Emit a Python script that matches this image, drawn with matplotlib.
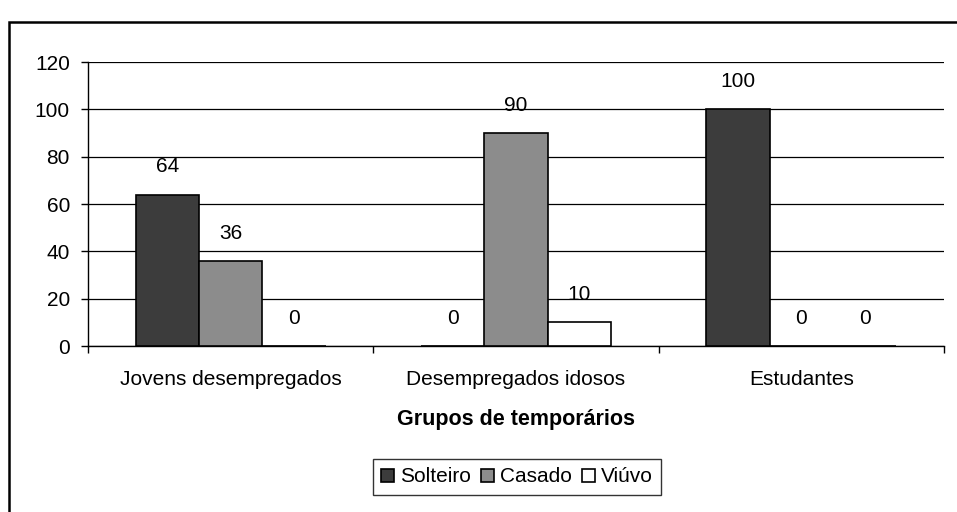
import matplotlib
matplotlib.use("Agg")
import matplotlib.pyplot as plt
import numpy as np
from matplotlib.patches import Rectangle

categories = ["Jovens desempregados", "Desempregados idosos", "Estudantes"]
series_names = ["Solteiro", "Casado", "Viúvo"]
solteiro = [64, 0, 100]
casado = [36, 90, 0]
viuvo = [0, 10, 0]
values = [solteiro, casado, viuvo]
colors = ["#3c3c3c", "#8c8c8c", "#ffffff"]
yticks = [0, 20, 40, 60, 80, 100, 120]

plt.rcParams['font.family'] = ['Liberation Sans', 'DejaVu Sans']
FS = 15

W, H = 957, 512
fig = plt.figure(figsize=(W/100, H/100), dpi=100)
ax = fig.add_axes([88/W, 1-346/H, (944-88)/W, (346-62)/H])

x = np.arange(len(categories))
bw = 0.222
for i, (name, vals, c) in enumerate(zip(series_names, values, colors)):
    pos = x + (i-1)*bw
    ax.bar(pos, vals, width=bw, color=c, edgecolor='black', linewidth=1.2,
           label=name, zorder=3)
    for px, v in zip(pos, vals):
        ax.annotate(str(v), (px, v), xytext=(0, 20), textcoords='offset points',
                    ha='center', va='center', fontsize=FS, zorder=4)

ax.set_xlim(-0.5, 2.5)
ax.set_ylim(0, 120)
ax.set_yticks(yticks)
ax.grid(axis='y', color='black', linewidth=0.9, zorder=0)
for s in ['top', 'right']:
    ax.spines[s].set_visible(False)
ax.spines['left'].set_linewidth(1.0)
ax.spines['bottom'].set_linewidth(1.0)
ax.tick_params(axis='y', length=5, width=1, pad=8, labelsize=FS)
ax.set_xticks(x)
ax.set_xticklabels(categories, fontsize=FS)
ax.tick_params(axis='x', which='major', length=0, pad=17)
ax.set_xticks([-0.5, 0.5, 1.5, 2.5], minor=True)
ax.tick_params(axis='x', which='minor', length=5, width=1, direction='out')
ax.set_xlabel("Grupos de temporários", fontsize=15.5, fontweight='bold', labelpad=15)

leg = fig.legend(loc='center', bbox_to_anchor=(517/W, 1-477/H), ncol=3,
                 fontsize=FS, frameon=True, fancybox=False, edgecolor='black',
                 handlelength=0.6, handleheight=0.6, handletextpad=0.3,
                 columnspacing=0.5, borderpad=0.4)
leg.get_frame().set_linewidth(1.0)

fig.patches.append(Rectangle((9/W, -0.1), 1.0, 1-22/H+0.1, transform=fig.transFigure,
                             fill=False, edgecolor='black', linewidth=1.8))

fig.savefig("out.png", dpi=100)
